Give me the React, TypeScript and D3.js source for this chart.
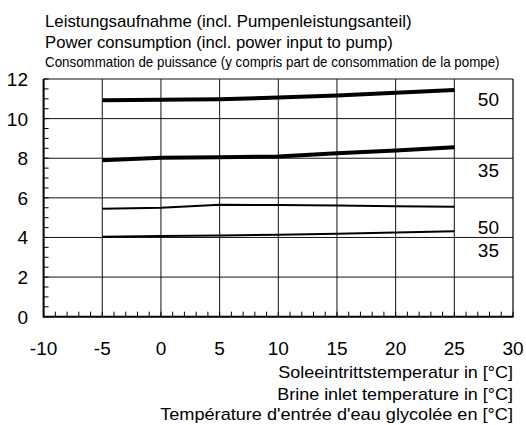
import React, { useEffect, useRef } from "react";
import * as d3 from "d3";

// brine inlet temperature in °C
const temps = [-5, 0, 5, 10, 15, 20, 25];
// power consumption in kW
const thick50 = [10.93, 10.95, 10.98, 11.06, 11.17, 11.31, 11.45];
const thick35 = [7.9, 8.02, 8.05, 8.09, 8.25, 8.39, 8.55];
const thin50 = [5.45, 5.5, 5.65, 5.64, 5.61, 5.58, 5.55];
const thin35 = [4.03, 4.07, 4.1, 4.14, 4.19, 4.25, 4.31];
const curveLabels = ["50", "35", "50", "35"];

const xTicks = [-10, -5, 0, 5, 10, 15, 20, 25, 30];
const yTicks = [0, 2, 4, 6, 8, 10, 12];

const titleLines = [
  "Leistungsaufnahme (incl. Pumpenleistungsanteil)",
  "Power consumption (incl. power input to pump)",
  "Consommation de puissance (y compris part de consommation de la pompe)",
];
const xTitleLines = [
  "Soleeintrittstemperatur in [°C]",
  "Brine inlet temperature in [°C]",
  "Température d'entrée d'eau glycolée en [°C]",
];

const FONT = "'Liberation Sans', Arial, Helvetica, sans-serif";

// squeeze/stretch a text horizontally so it spans `w` px from its anchor
const fitWidth = (sel, w, ax) => {
  const node = sel.node();
  const natural = node.getComputedTextLength();
  if (!natural) return;
  const k = w / natural;
  sel.attr("transform", `translate(${ax},0) scale(${k},1) translate(${-ax},0)`);
};

const App = () => {
  const ref = useRef<SVGSVGElement>(null);

  useEffect(() => {
    const svg = d3.select(ref.current);
    svg.selectAll("*").remove();

    const left = 43.6, right = 513, top = 79, bottom = 316.7;
    const x = d3.scaleLinear().domain([-10, 30]).range([left, right]);
    const y = d3.scaleLinear().domain([0, 12]).range([bottom, top]);

    const g = svg.append("g").attr("font-family", FONT).attr("fill", "#000");

    // grid
    g.selectAll(".vgrid")
      .data(xTicks.slice(1, -1))
      .enter()
      .append("line")
      .attr("x1", (d) => x(d))
      .attr("x2", (d) => x(d))
      .attr("y1", top)
      .attr("y2", bottom)
      .attr("stroke", "#111")
      .attr("stroke-width", 1);
    g.selectAll(".hgrid")
      .data(yTicks.slice(1))
      .enter()
      .append("line")
      .attr("x1", left)
      .attr("x2", right)
      .attr("y1", (d) => y(d))
      .attr("y2", (d) => y(d))
      .attr("stroke", "#111")
      .attr("stroke-width", 1);
    // right border
    g.append("line")
      .attr("x1", right).attr("x2", right)
      .attr("y1", top).attr("y2", bottom)
      .attr("stroke", "#000").attr("stroke-width", 1.2);

    // minor ticks
    g.selectAll(".ytick")
      .data(d3.range(0, 12.01, 0.5))
      .enter()
      .append("line")
      .attr("x1", left)
      .attr("x2", left + 5)
      .attr("y1", (d) => y(d))
      .attr("y2", (d) => y(d))
      .attr("stroke", "#000");
    g.selectAll(".xtick")
      .data(d3.range(-10, 30.01, 1))
      .enter()
      .append("line")
      .attr("x1", (d) => x(d))
      .attr("x2", (d) => x(d))
      .attr("y1", bottom)
      .attr("y2", bottom - 5)
      .attr("stroke", "#000");

    // axes lines
    g.append("line")
      .attr("x1", left).attr("x2", left)
      .attr("y1", top).attr("y2", bottom + 1)
      .attr("stroke", "#000").attr("stroke-width", 2);
    g.append("line")
      .attr("x1", left).attr("x2", right + 0.5)
      .attr("y1", bottom).attr("y2", bottom)
      .attr("stroke", "#000").attr("stroke-width", 2);

    // tick labels
    g.selectAll(".ylab")
      .data(yTicks)
      .enter()
      .append("text")
      .attr("x", 28)
      .attr("y", (d) => y(d) + 7)
      .attr("text-anchor", "end")
      .attr("font-size", 19)
      .text((d) => d);
    g.selectAll(".xlab")
      .data(xTicks)
      .enter()
      .append("text")
      .attr("x", (d) => x(d))
      .attr("y", 355)
      .attr("text-anchor", "middle")
      .attr("font-size", 19)
      .text((d) => d);

    // curves
    const line = d3
      .line<number>()
      .x((_, i) => x(temps[i]))
      .y((d) => y(d));
    [
      [thick50, 4],
      [thick35, 4],
      [thin50, 2],
      [thin35, 2],
    ].forEach(([vals, w]) => {
      g.append("path")
        .attr("d", line(vals as number[]))
        .attr("fill", "none")
        .attr("stroke", "#000")
        .attr("stroke-width", w as number);
    });

    // curve labels (flow temperature)
    const labelY = [10.98, 7.4, 4.52, 3.36];
    g.selectAll(".clab")
      .data(curveLabels)
      .enter()
      .append("text")
      .attr("x", x(30) - 14)
      .attr("y", (_, i) => y(labelY[i]) + 7)
      .attr("text-anchor", "end")
      .attr("font-size", 19)
      .text((d) => d);

    // titles
    const titleY = [27, 48, 67];
    const titleW = [367, 348, 455];
    const titleSize = [16, 16, 15];
    titleLines.forEach((t, i) => {
      const txt = g.append("text")
        .attr("x", 45)
        .attr("y", titleY[i])
        .attr("font-size", titleSize[i])
        .text(t);
      fitWidth(txt, titleW[i], 45);
    });

    const xTitleY = [378, 400, 420];
    const xTitleW = [235, 236, 353];
    xTitleLines.forEach((t, i) => {
      const txt = g.append("text")
        .attr("x", 513)
        .attr("y", xTitleY[i])
        .attr("text-anchor", "end")
        .attr("font-size", 16)
        .text(t);
      fitWidth(txt, xTitleW[i], 513);
    });
  }, []);

  return (
    <svg
      ref={ref}
      width={526}
      height={425}
      style={{ position: "absolute", left: 0, top: 0, background: "#fff" }}
    ></svg>
  );
};

export default App;
